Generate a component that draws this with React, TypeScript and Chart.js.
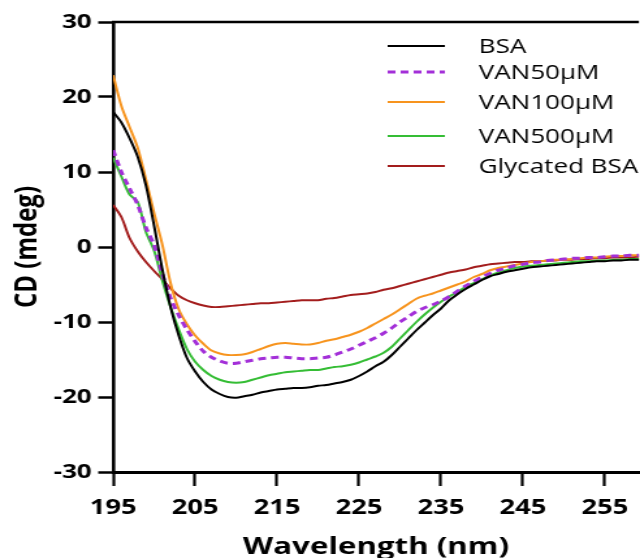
import React, { useEffect, useRef } from 'react';
import { Chart, registerables } from 'chart.js';

Chart.register(...registerables);

// ---------- data ----------
const wavelengths = [
  195, 196, 197, 198, 199, 200, 201, 202, 203, 204, 205, 206, 207, 208, 209, 210,
  211, 212, 213, 214, 215, 216, 217, 218, 219, 220, 221, 222, 223, 224, 225, 226,
  227, 228, 229, 230, 231, 232, 233, 234, 235, 236, 237, 238, 239, 240, 241, 242,
  243, 244, 245, 246, 247, 248, 249, 250, 251, 252, 253, 254, 255, 256, 257, 258,
  259, 260,
];

const bsa = [
  18.0, 16.6, 14.5, 12.0, 8.2, 2.8, -3.0, -8.0, -11.8, -14.8, -16.6, -18.0, -19.0, -19.6, -20.0, -20.1,
  -19.9, -19.7, -19.4, -19.2, -19.0, -18.9, -18.8, -18.8, -18.7, -18.5, -18.4, -18.2, -18.0, -17.7, -17.2, -16.6,
  -15.9, -15.3, -14.4, -13.3, -12.2, -11.1, -10.1, -9.1, -8.2, -7.1, -6.3, -5.6, -5.0, -4.4, -3.9, -3.6,
  -3.3, -3.1, -2.9, -2.7, -2.6, -2.5, -2.4, -2.3, -2.2, -2.1, -2.0, -1.9, -1.9, -1.8, -1.8, -1.7,
  -1.7, -1.7,
];

const van50 = [
  12.9, 10.0, 7.8, 5.6, 2.6, 0.2, -3.6, -6.8, -9.1, -11.0, -12.6, -13.9, -14.7, -15.2, -15.5, -15.5,
  -15.3, -15.1, -14.9, -14.8, -14.7, -14.7, -14.8, -14.9, -14.9, -14.8, -14.7, -14.4, -14.0, -13.6, -13.1, -12.6,
  -12.1, -11.5, -10.8, -10.0, -9.3, -8.6, -8.1, -7.7, -7.2, -6.6, -5.9, -5.2, -4.6, -4.0, -3.5, -3.1,
  -2.8, -2.5, -2.3, -2.1, -2.0, -1.8, -1.7, -1.6, -1.5, -1.5, -1.4, -1.4, -1.3, -1.2, -1.2, -1.1,
  -1.1, -1.1,
];

const van100 = [
  22.9, 18.8, 16.0, 13.2, 9.0, 4.5, 0.3, -4.8, -8.3, -10.3, -11.8, -12.9, -13.8, -14.2, -14.4, -14.4,
  -14.3, -14.0, -13.6, -13.2, -12.9, -12.8, -12.9, -13.0, -13.0, -12.8, -12.5, -12.3, -12.0, -11.7, -11.3, -10.8,
  -10.2, -9.6, -9.0, -8.3, -7.6, -6.9, -6.5, -6.2, -5.8, -5.4, -5.0, -4.6, -4.0, -3.6, -3.1, -2.8,
  -2.6, -2.4, -2.2, -2.0, -1.9, -1.8, -1.7, -1.7, -1.6, -1.5, -1.4, -1.4, -1.3, -1.2, -1.2, -1.1,
  -1.1, -1.1,
];

const van500 = [
  11.9, 9.4, 7.0, 6.0, 2.0, -0.5, -4.5, -8.0, -11.0, -13.6, -15.3, -16.4, -17.2, -17.7, -18.0, -18.1,
  -18.0, -17.7, -17.4, -17.1, -16.9, -16.7, -16.6, -16.5, -16.4, -16.4, -16.2, -16.0, -15.9, -15.7, -15.4, -15.0,
  -14.6, -14.1, -13.3, -12.2, -11.1, -10.0, -9.0, -8.1, -7.3, -6.6, -6.0, -5.3, -4.8, -4.3, -3.8, -3.4,
  -3.1, -2.8, -2.6, -2.5, -2.4, -2.3, -2.2, -2.1, -2.0, -1.9, -1.9, -1.8, -1.8, -1.7, -1.7, -1.6,
  -1.6, -1.6,
];

const glycatedBsa = [
  5.6, 4.0, 1.2, -0.6, -2.0, -3.2, -4.3, -5.5, -6.5, -7.1, -7.5, -7.8, -8.0, -8.0, -7.9, -7.8,
  -7.7, -7.6, -7.5, -7.5, -7.4, -7.3, -7.2, -7.1, -7.1, -7.1, -6.9, -6.8, -6.6, -6.4, -6.3, -6.2,
  -6.0, -5.7, -5.5, -5.2, -4.9, -4.6, -4.3, -4.0, -3.7, -3.4, -3.2, -3.0, -2.7, -2.5, -2.3, -2.2,
  -2.1, -2.0, -2.0, -1.9, -1.9, -1.8, -1.8, -1.7, -1.7, -1.6, -1.6, -1.5, -1.5, -1.4, -1.4, -1.4,
  -1.3, -1.3,
];

const seriesLabels = ['BSA', 'VAN50\u03bcM', 'VAN100\u03bcM', 'VAN500\u03bcM', 'Glycated BSA'];
const xTickValues = [195, 205, 215, 225, 235, 245, 255];
const yTickValues = [-30, -20, -10, 0, 10, 20, 30];

// ---------- presentation ----------
const SX = 1.3; // horizontal stretch of the original figure
const CSS_W = 640;
const CSS_H = 558;
const W = Math.round(CSS_W / SX);
const H = CSS_H;
const FONT = '"Open Sans", "DejaVu Sans", sans-serif';

const colors = ['#000000', '#a32fd8', '#f7941e', '#35bd35', '#a31d1d'];
const widths = [2, 3, 2, 2, 2];
const dashes: number[][] = [[], [6, 4], [], [], []];
const seriesValues = [bsa, van50, van100, van500, glycatedBsa];

const legendRows = [46, 72, 102, 136, 166];

const decorPlugin = {
  id: 'decor',
  afterDraw(chart: any) {
    const { ctx, chartArea } = chart;
    ctx.save();
    // top frame line
    ctx.strokeStyle = '#000';
    ctx.lineWidth = 2.5;
    ctx.beginPath();
    ctx.moveTo(chartArea.left - 1, chartArea.top);
    ctx.lineTo(chartArea.right, chartArea.top);
    ctx.stroke();
    // legend
    chart.data.datasets.forEach((ds: any, i: number) => {
      const y = legendRows[i];
      ctx.strokeStyle = ds.borderColor;
      ctx.lineWidth = ds.borderWidth;
      ctx.setLineDash(ds.borderDash || []);
      ctx.beginPath();
      ctx.moveTo(298, y);
      ctx.lineTo(342, y);
      ctx.stroke();
      ctx.setLineDash([]);
      ctx.fillStyle = '#000';
      ctx.font = `20px ${FONT}`;
      ctx.textAlign = 'left';
      ctx.textBaseline = 'alphabetic';
      ctx.fillText(ds.label, 368, y + 7);
    });
    ctx.restore();
  },
};

export default function App() {
  const canvasRef = useRef<HTMLCanvasElement | null>(null);

  useEffect(() => {
    const canvas = canvasRef.current;
    if (!canvas) return;
    const datasets = seriesLabels.map((label, i) => ({
      label,
      data: wavelengths.map((w, j) => ({ x: w, y: seriesValues[i][j] })),
      borderColor: colors[i],
      backgroundColor: colors[i],
      borderWidth: widths[i],
      borderDash: dashes[i],
      pointRadius: 0,
      tension: 0.3,
      fill: false,
    }));

    const chart = new Chart(canvas, {
      type: 'line',
      data: { datasets },
      plugins: [decorPlugin],
      options: {
        responsive: false,
        animation: false,
        devicePixelRatio: 1,
        layout: { padding: { top: 22, right: 0, left: 0, bottom: 0 } },
        plugins: {
          legend: { display: false },
          tooltip: { enabled: false },
        },
        scales: {
          x: {
            type: 'linear',
            min: 195,
            max: 259.15,
            afterBuildTicks: (s: any) => {
              s.ticks = xTickValues.map((v) => ({ value: v }));
            },
            afterFit: (s: any) => {
              s.height = 86;
            },
            grid: {
              drawOnChartArea: false,
              drawTicks: true,
              tickLength: 14,
              tickColor: '#000',
              tickWidth: 2.2,
            },
            border: { display: true, color: '#000', width: 3 },
            ticks: {
              color: '#000',
              font: { family: FONT, weight: 'bold', size: 21 },
              padding: 9,
              maxRotation: 0,
              autoSkip: false,
            },
            title: {
              display: true,
              text: 'Wavelength (nm)',
              color: '#000',
              font: { family: FONT, weight: 'bold', size: 24 },
              padding: { top: 0, bottom: -4 },
            },
          },
          y: {
            type: 'linear',
            min: -30,
            max: 30,
            afterBuildTicks: (s: any) => {
              s.ticks = yTickValues.map((v) => ({ value: v }));
            },
            afterFit: (s: any) => {
              s.width = 87;
            },
            grid: {
              drawOnChartArea: false,
              drawTicks: true,
              tickLength: 11.5,
              tickColor: '#000',
              tickWidth: 2.5,
            },
            border: { display: true, color: '#000', width: 2.6 },
            ticks: {
              color: '#000',
              font: { family: FONT, weight: 'bold', size: 20 },
              padding: 5,
            },
            title: {
              display: true,
              text: 'CD (mdeg)',
              color: '#000',
              font: { family: FONT, weight: 'bold', size: 24 },
              padding: { top: 7, bottom: 0 },
            },
          },
        },
      },
    } as any);

    return () => {
      chart.destroy();
    };
  }, []);

  return (
    <div style={{ position: 'fixed', left: 0, top: 0, width: CSS_W, height: CSS_H, background: '#fff' }}>
      <canvas
        ref={canvasRef}
        width={W}
        height={H}
        style={{ width: `${CSS_W}px`, height: `${CSS_H}px`, display: 'block' }}
      />
    </div>
  );
}
